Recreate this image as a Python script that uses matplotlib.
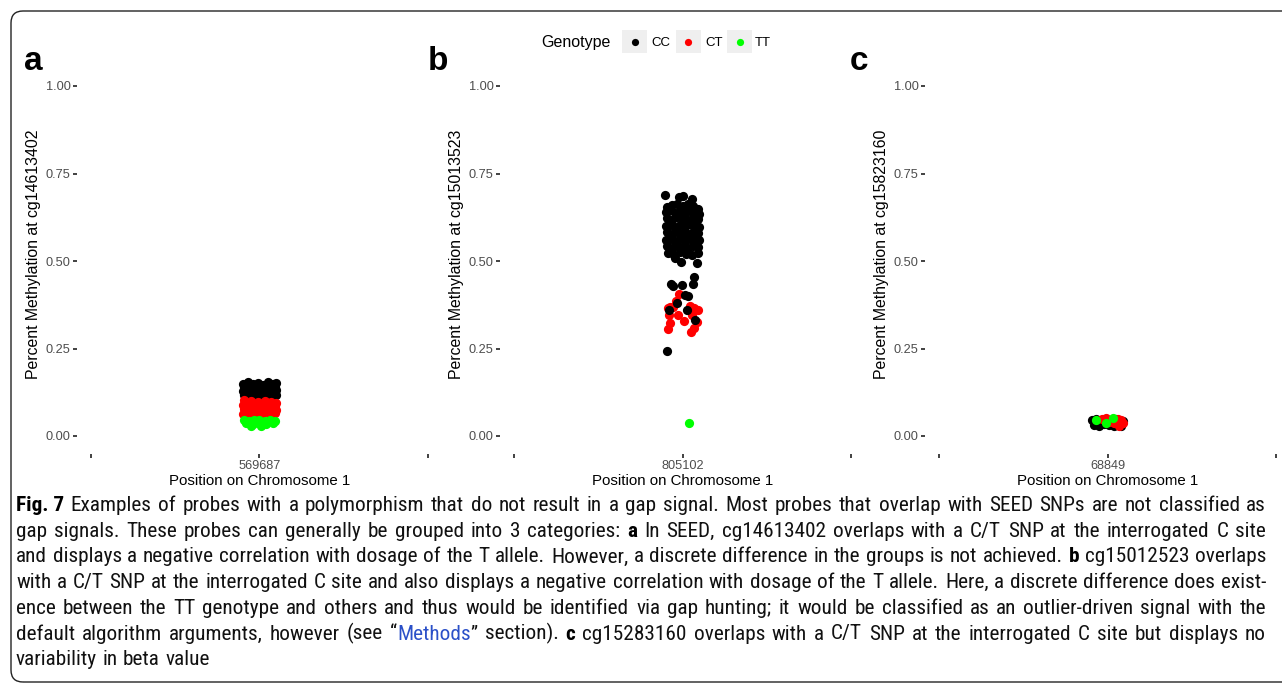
import re
import matplotlib
matplotlib.use("Agg")
import matplotlib.pyplot as plt
from matplotlib import font_manager
from matplotlib.patches import FancyBboxPatch, Rectangle
from matplotlib.lines import Line2D
from matplotlib.transforms import IdentityTransform

W, H = 1282, 685

# --- data ---------------------------------------------------------------
probe_pos = [1, 2, 3]
genotypes = ["CC", "CT", "TT"]
geno_colors = {"CC": "black", "CT": "#ff0000", "TT": "#00ff00"}

a_ticklabels = ["", "569687", ""]
b_ticklabels = ["", "805102", ""]
c_ticklabels = ["", "68849", ""]
a_ylabel = "Percent Methylation at cg14613402"
b_ylabel = "Percent Methylation at cg15013523"
c_ylabel = "Percent Methylation at cg15823160"
xlabel = "Position on Chromosome 1"

# panel a (cg14613402)
a_cc_x = [1.90, 1.93, 1.96, 1.99, 2.02, 2.05, 2.08, 2.10,
          1.91, 1.94, 1.97, 2.00, 2.03, 2.06, 2.09,
          1.90, 1.93, 1.96, 1.99, 2.02, 2.05, 2.08, 2.10,
          1.91, 1.95, 1.98, 2.01, 2.04, 2.07, 2.10,
          1.92, 1.97, 2.03, 2.08, 1.93]
a_cc_y = [0.150, 0.154, 0.148, 0.152, 0.146, 0.153, 0.149, 0.151,
          0.140, 0.137, 0.142, 0.139, 0.141, 0.136, 0.140,
          0.128, 0.131, 0.126, 0.130, 0.127, 0.129, 0.125, 0.131,
          0.117, 0.119, 0.115, 0.118, 0.114, 0.120, 0.116,
          0.106, 0.104, 0.107, 0.105, 0.093]
a_ct_x = [1.91, 1.95, 1.99, 2.03, 2.07, 2.10,
          1.90, 1.93, 1.97, 2.01, 2.05, 2.09,
          1.91, 1.95, 1.99, 2.03, 2.07, 2.10,
          1.90, 1.94, 1.98, 2.02, 2.06, 2.09,
          1.93, 2.00, 2.07]
a_ct_y = [0.104, 0.101, 0.096, 0.099, 0.097, 0.095,
          0.088, 0.085, 0.087, 0.084, 0.089, 0.086,
          0.076, 0.074, 0.078, 0.073, 0.077, 0.075,
          0.064, 0.066, 0.062, 0.065, 0.063, 0.067,
          0.056, 0.058, 0.057]
a_tt_x = [1.91, 1.94, 1.97, 2.00, 2.03, 2.06, 2.09,
          1.92, 1.96, 2.00, 2.04, 2.08, 1.95, 2.01]
a_tt_y = [0.046, 0.044, 0.047, 0.045, 0.043, 0.046, 0.044,
          0.036, 0.034, 0.037, 0.035, 0.038, 0.028, 0.030]

# panel b (cg15013523)
b_cc_x = [1.91, 1.94, 1.97, 2.00, 2.03, 2.06, 2.09,
          1.90, 1.925, 1.955, 1.985, 2.015, 2.045, 2.075, 2.10,
          1.91, 1.94, 1.97, 2.00, 2.03, 2.06, 2.09,
          1.90, 1.925, 1.955, 1.985, 2.015, 2.045, 2.075, 2.10,
          1.91, 1.94, 1.97, 2.00, 2.03, 2.06, 2.09,
          1.90, 1.925, 1.955, 1.985, 2.015, 2.045, 2.075, 2.10,
          1.91, 1.94, 1.97, 2.00, 2.03, 2.06, 2.09,
          1.915, 1.95, 1.985, 2.02, 2.055, 2.09,
          1.896, 1.98, 2.003, 2.056, 1.991, 2.086, 1.955,
          2.068, 1.932, 1.944, 1.997, 2.062, 2.015, 2.033, 1.967,
          2.027, 1.920, 2.074, 1.908]
b_cc_y = [0.655, 0.660, 0.664, 0.658, 0.662, 0.657, 0.650,
          0.640, 0.645, 0.638, 0.642, 0.636, 0.644, 0.639, 0.635,
          0.622, 0.618, 0.625, 0.620, 0.617, 0.623, 0.619,
          0.600, 0.604, 0.598, 0.602, 0.596, 0.605, 0.601, 0.598,
          0.582, 0.578, 0.584, 0.580, 0.576, 0.583, 0.579,
          0.560, 0.563, 0.557, 0.562, 0.558, 0.564, 0.559, 0.561,
          0.542, 0.538, 0.544, 0.540, 0.536, 0.543, 0.539,
          0.522, 0.518, 0.525, 0.520, 0.516, 0.524,
          0.690, 0.683, 0.685, 0.677, 0.498, 0.495, 0.509,
          0.455, 0.434, 0.428, 0.431, 0.434, 0.403, 0.401, 0.380,
          0.360, 0.360, 0.331, 0.244]
b_ct_x = [1.979, 1.961, 1.926, 1.914, 1.944, 1.920, 1.973, 2.045, 2.068,
          2.092, 2.056, 2.009, 1.926, 2.086, 1.914, 2.068, 2.050]
b_ct_y = [0.405, 0.387, 0.370, 0.366, 0.370, 0.346, 0.346, 0.372, 0.366,
          0.360, 0.346, 0.329, 0.324, 0.327, 0.305, 0.308, 0.298]
b_tt_x = [2.039]
b_tt_y = [0.038]

# panel c (cg15823160)
c_cc_x = [1.91, 1.93, 1.96, 1.99, 2.02, 2.05, 1.92, 1.95, 1.98, 2.01,
          2.04, 2.08, 1.94, 2.00, 2.06, 2.09]
c_cc_y = [0.045, 0.050, 0.040, 0.046, 0.044, 0.048, 0.032, 0.030, 0.034, 0.031,
          0.029, 0.030, 0.040, 0.036, 0.038, 0.042]
c_ct_x = [1.99, 2.03, 2.06, 2.08, 2.09, 2.04, 2.07, 2.01, 1.97, 2.05]
c_ct_y = [0.052, 0.047, 0.050, 0.045, 0.036, 0.038, 0.030, 0.041, 0.048, 0.043]
c_tt_x = [1.93, 1.99, 2.03]
c_tt_y = [0.046, 0.036, 0.051]

caption = [
    "**Fig.\u00a07** Examples of probes with a polymorphism that do not result in a gap signal. Most probes that overlap with SEED SNPs are not classified as",
    "gap signals. These probes can generally be grouped into 3 categories: **a** In SEED, cg14613402 overlaps with a C/T SNP at the interrogated C site",
    "and displays a negative correlation with dosage of the T allele. However, a discrete difference in the groups is not achieved. **b** cg15012523 overlaps",
    "with a C/T SNP at the interrogated C site and also displays a negative correlation with dosage of the T allele. Here, a discrete difference does exist-",
    "ence between the TT genotype and others and thus would be identified via gap hunting; it would be classified as an outlier-driven signal with the",
    "default algorithm arguments, however (see \u201c[[Methods]]\u201d section). **c** cg15283160 overlaps with a C/T SNP at the interrogated C site but displays no",
    "variability in beta value",
]

# --- helpers ------------------------------------------------------------
def fx(px):
    return px / W


def fy(py):
    return 1 - py / H


names = {f.name for f in font_manager.fontManager.ttflist}
plot_font = "Liberation Sans"
cap_font = "Lato"
for cand in ["Liberation Sans Narrow", "Roboto Condensed", "Open Sans Condensed"]:
    if cand in names:
        cap_font = cand
        break

plt.rcParams["font.family"] = [plot_font, "DejaVu Sans"]

fig = plt.figure(figsize=(W / 100, H / 100), dpi=100)
fig.patch.set_facecolor("white")

# outer rounded frame
frame = FancyBboxPatch((11, 3), 1300, 671, boxstyle="round,pad=0,rounding_size=12",
                       transform=IdentityTransform(), fill=False,
                       ec="#222222", lw=1.0)
fig.add_artist(frame)

panels = [
    (77, 24, "a", a_ylabel, a_ticklabels,
     [("CC", a_cc_x, a_cc_y), ("CT", a_ct_x, a_ct_y), ("TT", a_tt_x, a_tt_y)]),
    (500, 428, "b", b_ylabel, b_ticklabels,
     [("CT", b_ct_x, b_ct_y), ("CC", b_cc_x, b_cc_y), ("TT", b_tt_x, b_tt_y)]),
    (925, 850, "c", c_ylabel, c_ticklabels,
     [("CC", c_cc_x, c_cc_y), ("CT", c_ct_x, c_ct_y), ("TT", c_tt_x, c_tt_y)]),
]

ax_w, ax_top, ax_bot = 365, 68.5, 453.5
ax_h = ax_bot - ax_top
for left, letter_x, letter, ylab, xtl, series in panels:
    ax = fig.add_axes([fx(left), fy(ax_bot), ax_w / W, ax_h / H])
    ax.set_facecolor("none")
    for g, xs, ys in series:
        ax.scatter(xs, ys, s=44, c=geno_colors[g], linewidths=0)
    ax.set_xlim(0.917, 3.083)
    ax.set_ylim(-0.05, 1.05)
    ax.set_xticks(probe_pos)
    ax.set_xticklabels(xtl)
    ax.set_yticks([0, 0.25, 0.5, 0.75, 1.0])
    ax.set_yticklabels(["0.00", "0.25", "0.50", "0.75", "1.00"])
    for s in ax.spines.values():
        s.set_visible(False)
    ax.tick_params(direction="out", length=3, width=1.3, color="#333333",
                   labelcolor="#4d4d4d", labelsize=9.2, pad=1.5)
    ax.set_ylabel(ylab, fontsize=11.4, color="black")
    ax.yaxis.set_label_coords(-36 / ax_w, (ax_bot - 254) / ax_h)
    ax.set_xlabel(xlabel, fontsize=10.8, color="black")
    ax.xaxis.set_label_coords(0.5, -20.5 / ax_h)
    # panel letter
    fig.text(fx(letter_x), fy(70), letter,
             fontsize=24, weight="bold", va="baseline", ha="left")

# legend
fig.text(fx(541), fy(47), "Genotype", fontsize=11.5, va="baseline", ha="left")
for g, kx, lx in [("CC", 622, 651), ("CT", 676, 705), ("TT", 727, 755)]:
    fig.add_artist(Rectangle((fx(kx), fy(53)), 25 / W, 23 / H,
                             transform=fig.transFigure, fc="#efefef", ec="none"))
    fig.add_artist(Line2D([fx(kx + 12.5)], [fy(41.5)], marker="o", ms=5.2,
                          ls="none", mfc=geno_colors[g], mec="none",
                          transform=fig.transFigure))
    fig.text(fx(lx), fy(46.5), g, fontsize=9.5, va="baseline", ha="left")

# caption, justified word by word
renderer = fig.canvas.get_renderer()
run_re = re.compile(r"\*\*(.+?)\*\*|\[\[(.+?)\]\]|([^*\[\]]+)")
cap_left, cap_right = 16, 1266
baselines = [511, 537, 562.5, 588, 614, 639.5, 665]
fs = 14

lines = []
for line in caption:
    words = []
    for word in line.split(" "):
        runs = []
        for bold, blue, plain in run_re.findall(word):
            if bold:
                t = fig.text(0, 0, bold, weight="bold", color="black")
            elif blue:
                t = fig.text(0, 0, blue, color="#2b50c8")
            else:
                t = fig.text(0, 0, plain, color="#111111")
            t.set_family([cap_font, "DejaVu Sans"])
            t.set_va("baseline")
            runs.append(t)
        words.append(runs)
    lines.append(words)


def measure(size):
    for words in lines:
        for runs in words:
            for t in runs:
                t.set_fontsize(size)
    return [[[t.get_window_extent(renderer).width for t in runs] for runs in words]
            for words in lines]


widths = measure(fs)
target = cap_right - cap_left
factor = 10.0
for wl in widths[:-1]:
    natural = sum(sum(w) for w in wl) + (len(wl) - 1) * 0.24 * fs * 100 / 72
    factor = min(factor, target / natural)
fs *= factor
widths = measure(fs)

for i, (words, wl) in enumerate(zip(lines, widths)):
    total = sum(sum(w) for w in wl)
    if i < len(lines) - 1:
        gap = (target - total) / (len(words) - 1)
    else:
        gap = 0.25 * fs * 100 / 72
    x = cap_left
    for runs, ws in zip(words, wl):
        for t, w in zip(runs, ws):
            t.set_position((fx(x), fy(baselines[i])))
            x += w
        x += gap

fig.savefig("out.png", dpi=100)
